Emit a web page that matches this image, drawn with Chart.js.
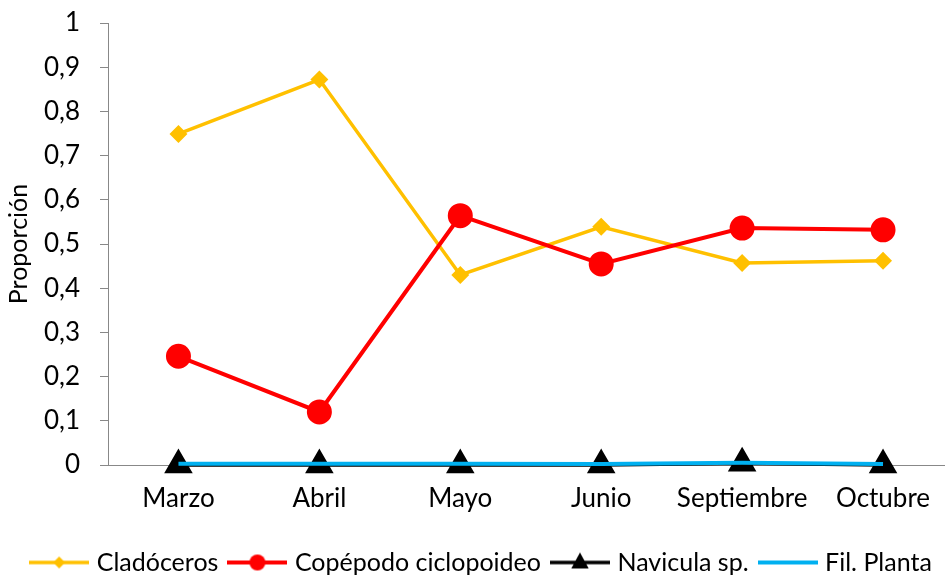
<!DOCTYPE html>
<html>
<head>
<meta charset="utf-8">
<script src="https://cdn.jsdelivr.net/npm/chart.js@4.4.0/dist/chart.umd.min.js"></script>
<style>
  html, body { margin: 0; padding: 0; background: #fff; overflow: hidden; }
  #wrap { width: 970px; height: 577px; }
</style>
</head>
<body>
<div id="wrap"><canvas id="chart" width="970" height="577"></canvas></div>
<script>
// data
const months = ["Marzo", "Abril", "Mayo", "Junio", "Septiembre", "Octubre"];
const cladoceros = [0.749, 0.872, 0.430, 0.539, 0.457, 0.462];
const copepodo = [0.246, 0.120, 0.564, 0.455, 0.536, 0.532];
const navicula = [0, 0, 0, 0, 0.004, 0];
const filPlanta = [0.003, 0.003, 0.003, 0.002, 0.005, 0.002];
const yTicks = [0, 0.1, 0.2, 0.3, 0.4, 0.5, 0.6, 0.7, 0.8, 0.9, 1];

const fontName = "Lato";

// small legend pictures: line with the marker in the middle
function legendImg(color, style, r, lw) {
    let c = document.createElement("canvas");
    c.width = 60; c.height = 24;
    let g = c.getContext("2d");
    g.strokeStyle = color; g.fillStyle = color; g.lineWidth = lw;
    g.beginPath(); g.moveTo(0, 12); g.lineTo(60, 12); g.stroke();
    g.beginPath();
    if (style === "circle") {
        g.arc(30, 12, r, 0, Math.PI * 2);
    } else if (style === "rectRot") {
        g.moveTo(30, 12 - r); g.lineTo(30 + r, 12); g.lineTo(30, 12 + r); g.lineTo(30 - r, 12);
    } else if (style === "triangle") {
        g.moveTo(30, 12 - r); g.lineTo(30 + r * 0.87, 12 + r * 0.5 + 1); g.lineTo(30 - r * 0.87, 12 + r * 0.5 + 1);
    }
    if (style) g.fill();
    return c;
}

const legendPics = [
    legendImg("#FFC000", "rectRot", 6, 3.5),
    legendImg("#FF0000", "circle", 8, 4),
    legendImg("#000000", "triangle", 10, 3.5),
    legendImg("#00B0F0", null, 0, 4)
];

let ctx = document.getElementById("chart").getContext("2d");

let chart = new Chart(ctx, {
    type: "line",
    data: {
        labels: months,
        datasets: [
            {
                label: "Cladóceros",
                data: cladoceros,
                borderColor: "#FFC000",
                backgroundColor: "#FFC000",
                borderWidth: 3.5,
                pointStyle: "rectRot",
                pointRadius: 6.5,
                clip: false,
                order: 4
            },
            {
                label: "Copépodo ciclopoideo",
                data: copepodo,
                borderColor: "#FF0000",
                backgroundColor: "#FF0000",
                borderWidth: 4,
                pointStyle: "circle",
                pointRadius: 10.5,
                clip: false,
                order: 3
            },
            {
                label: "Navicula sp.",
                data: navicula,
                borderColor: "#000000",
                backgroundColor: "#000000",
                borderWidth: 3.5,
                pointStyle: "triangle",
                pointRadius: 13,
                clip: false,
                order: 2
            },
            {
                label: "Fil. Planta",
                data: filPlanta,
                borderColor: "#00B0F0",
                backgroundColor: "#00B0F0",
                borderWidth: 4,
                pointRadius: 0,
                clip: false,
                order: 1
            }
        ]
    },
    options: {
        responsive: false,
        animation: false,
        layout: { padding: { top: 23, left: 0, right: 4, bottom: -8 } },
        plugins: {
            tooltip: { enabled: false },
            legend: {
                position: "bottom",
                labels: {
                    usePointStyle: true,
                    pointStyleWidth: 50,
                    boxHeight: 26,
                    padding: 14,
                    color: "#000",
                    font: { family: fontName, size: 25 },
                    sort: (a, b) => a.datasetIndex - b.datasetIndex,
                    generateLabels: function (ch) {
                        let items = Chart.defaults.plugins.legend.labels.generateLabels(ch);
                        items.forEach(it => { it.pointStyle = legendPics[it.datasetIndex]; });
                        return items;
                    }
                }
            }
        },
        scales: {
            x: {
                offset: true,
                grid: { drawOnChartArea: false, drawTicks: false },
                border: { color: "#888", width: 1 },
                ticks: { color: "#000", padding: 18, maxRotation: 0, font: { family: fontName, size: 26 } },
                afterFit: function (s) { s.height = 71; }
            },
            y: {
                min: 0,
                max: 1,
                afterBuildTicks: function (s) { s.ticks = yTicks.map(v => ({ value: v })); },
                grid: { drawOnChartArea: false, drawTicks: true, tickLength: 8, color: "#888" },
                border: { color: "#888", width: 1 },
                title: {
                    display: true,
                    text: "Proporción",
                    color: "#000",
                    font: { family: fontName, size: 25 },
                    padding: { top: 4, bottom: 0 }
                },
                ticks: {
                    color: "#000",
                    padding: 20,
                    font: { family: fontName, size: 26 },
                    callback: function (v) { return String(Math.round(v * 10) / 10).replace(".", ","); }
                },
                afterFit: function (s) {
                    s.width = 108;
                    s.paddingTop = 0;
                    s.paddingBottom = 0;
                }
            }
        }
    }
});
</script>
</body>
</html>
